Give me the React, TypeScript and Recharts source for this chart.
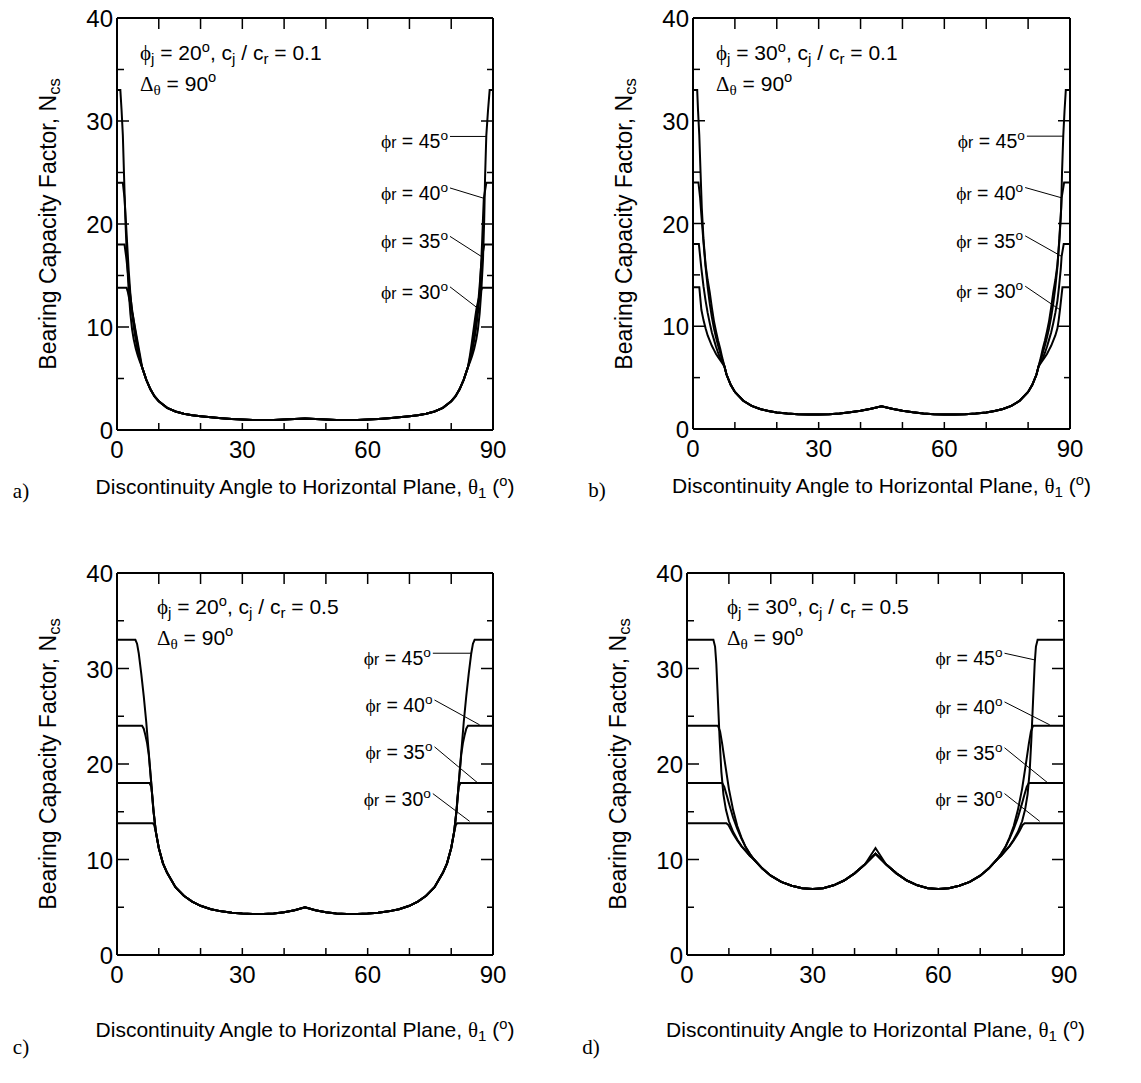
import React from 'react';
import { LineChart, Line, XAxis, YAxis, ReferenceLine } from 'recharts';

type Pt = [number, number];
type Seg = [number, number, number, number];

const FONT = "'Liberation Sans', Arial, Helvetica, sans-serif";
const SERIF = "'Liberation Serif', 'DejaVu Serif', 'Times New Roman', serif";

const X_TICKS = [0, 10, 20, 30, 40, 50, 60, 70, 80, 90];
const Y_TICKS = [0, 5, 10, 15, 20, 25, 30, 35, 40];
const X_LABELS = [0, 30, 60, 90];
const Y_LABELS = [0, 10, 20, 30, 40];
const PHI_R = [45, 40, 35, 30];

// ---- a) phi_j = 20, cj/cr = 0.1
const aMid: Pt[] = [[6, 6.1], [6.5, 5.5], [7, 4.9], [8, 3.95], [9, 3.25], [10, 2.8], [12, 2.15], [14, 1.8], [16, 1.58], [18, 1.44], [20, 1.34], [22.5, 1.23], [25, 1.14], [27.5, 1.07], [30, 1.02], [32.5, 0.98], [35, 0.97], [37.5, 0.98], [40, 1.01], [42.5, 1.06], [45, 1.12], [47.5, 1.06], [50, 1.01], [52.5, 0.98], [55, 0.97], [57.5, 0.98], [60, 1.02], [62.5, 1.07], [65, 1.14], [67.5, 1.23], [70, 1.34], [72, 1.44], [74, 1.58], [76, 1.8], [78, 2.15], [80, 2.8], [81, 3.25], [82, 3.95], [83, 4.9], [83.5, 5.5], [84, 6.1]];
const a45L: Pt[] = [[0, 33], [0.8, 33], [1.1, 31], [1.4, 28.6], [1.7, 24.5], [2, 20.5], [2.4, 16.5], [2.8, 13.5], [3.2, 11.3], [3.6, 9.8], [4, 8.8], [4.5, 7.9], [5, 7.2], [5.5, 6.6]];
const a40L: Pt[] = [[0, 24], [1.4, 24], [1.8, 22.5], [2.1, 20.5], [2.4, 18.3], [2.8, 15.5], [3.2, 13.2], [3.6, 11.4], [4, 10], [4.5, 8.7], [5, 7.6], [5.5, 6.8]];
const a35L: Pt[] = [[0, 18], [1.8, 18], [2.2, 16.8], [2.5, 15.7], [2.8, 14.5], [3.2, 13], [3.6, 11.7], [4, 10.6], [4.5, 9.3], [5, 8.1], [5.5, 7]];
const a30L: Pt[] = [[0, 13.8], [2.3, 13.8], [2.6, 13.4], [3, 12.6], [3.4, 11.9], [3.8, 11.1], [4.2, 10.2], [4.6, 9.3], [5, 8.4], [5.5, 7.3]];
const a45R: Pt[] = [[84.5, 6.6], [85, 7.2], [85.5, 7.9], [86, 8.8], [86.4, 9.8], [86.8, 11.3], [87.2, 13.5], [87.6, 16.5], [87.9, 20.5], [88.1, 24.5], [88.4, 28.6], [88.8, 31], [89.2, 33], [90, 33]];
const a40R: Pt[] = [[84.5, 6.8], [85, 7.6], [85.5, 8.7], [86, 10], [86.4, 11.4], [86.8, 13.2], [87.1, 15.5], [87.4, 18.3], [87.6, 20.5], [87.8, 22.5], [88.4, 24], [90, 24]];
const a35R: Pt[] = [[84.5, 7], [85, 8.1], [85.5, 9.3], [85.9, 10.6], [86.3, 11.7], [86.6, 13], [86.9, 14.5], [87.1, 15.7], [87.4, 16.8], [87.9, 18], [90, 18]];
const a30R: Pt[] = [[84.5, 7.3], [84.9, 8.4], [85.2, 9.3], [85.5, 10.2], [85.8, 11.1], [86.1, 11.9], [86.5, 12.6], [87, 13.4], [87.4, 13.8], [90, 13.8]];
const aLeaders: Seg[] = [[79.7, 28.5, 88.3, 28.5], [79.7, 23.5, 87.8, 22.5], [79.7, 18.8, 87.4, 16.8], [79.7, 13.9, 86.1, 11.9]];

// ---- b) phi_j = 30, cj/cr = 0.1
const bMid: Pt[] = [[7.5, 6.1], [8, 5.3], [9, 4.3], [10, 3.6], [12, 2.75], [14, 2.25], [16, 1.95], [18, 1.75], [20, 1.6], [22.5, 1.5], [25, 1.44], [27.5, 1.41], [30, 1.4], [32.5, 1.43], [35, 1.5], [37.5, 1.62], [40, 1.78], [42.5, 1.98], [45, 2.2], [47.5, 1.98], [50, 1.78], [52.5, 1.62], [55, 1.5], [57.5, 1.43], [60, 1.4], [62.5, 1.41], [65, 1.44], [67.5, 1.5], [70, 1.6], [72, 1.75], [74, 1.95], [76, 2.25], [78, 2.75], [80, 3.6], [81, 4.3], [82, 5.3], [82.5, 6.1]];
const b45L: Pt[] = [[0, 33], [1, 33], [1.2, 31], [1.5, 28.6], [1.8, 25], [2.1, 21.5], [2.5, 18.5], [3, 16], [3.5, 14.5], [4, 13.3], [4.5, 11.8], [5, 10.5], [5.5, 9.5], [6, 8.6], [6.5, 7.8], [7, 6.9]];
const b40L: Pt[] = [[0, 24], [1.3, 24], [1.7, 22.5], [2, 20.8], [2.5, 18.2], [3, 15.8], [3.5, 13.8], [4, 12.2], [4.5, 10.9], [5, 9.8], [5.5, 8.9], [6, 8.1], [6.5, 7.4], [7, 6.7]];
const b35L: Pt[] = [[0, 18], [1.4, 18], [1.7, 16.8], [2, 15.6], [2.5, 13.9], [3, 12.5], [3.5, 11.3], [4, 10.3], [4.5, 9.4], [5, 8.7], [5.5, 8], [6, 7.4], [6.5, 6.9], [7, 6.5]];
const b30L: Pt[] = [[0, 13.8], [1.5, 13.8], [2, 11.6], [2.5, 10.6], [3, 9.8], [3.5, 9.1], [4, 8.6], [4.5, 8.1], [5, 7.7], [5.5, 7.3], [6, 7], [6.5, 6.7], [7, 6.4]];
const b45R: Pt[] = [[83, 6.9], [83.5, 7.8], [84, 8.6], [84.5, 9.5], [85, 10.5], [85.5, 11.8], [86, 13.3], [86.5, 14.5], [87, 16], [87.5, 18.5], [87.9, 21.5], [88.1, 25], [88.4, 28.6], [88.7, 31], [89, 33], [90, 33]];
const b40R: Pt[] = [[83, 6.7], [83.5, 7.4], [84, 8.1], [84.5, 8.9], [85, 9.8], [85.5, 10.9], [86, 12.2], [86.5, 13.8], [87, 15.8], [87.4, 18.2], [87.8, 20.8], [88, 22.5], [88.6, 24], [90, 24]];
const b35R: Pt[] = [[83, 6.5], [83.5, 6.9], [84, 7.4], [84.5, 8], [85, 8.7], [85.5, 9.4], [86, 10.3], [86.5, 11.3], [87, 12.5], [87.4, 13.9], [87.8, 15.6], [88, 16.8], [88.5, 18], [90, 18]];
const b30R: Pt[] = [[83, 6.4], [83.5, 6.7], [84, 7], [84.5, 7.3], [85, 7.7], [85.5, 8.1], [86, 8.6], [86.5, 9.1], [87, 9.8], [87.3, 10.6], [87.6, 11.6], [88.2, 13.8], [90, 13.8]];
const bLeaders: Seg[] = [[79.7, 28.5, 88.4, 28.5], [79.3, 23.5, 88.0, 22.5], [79.3, 18.8, 88.0, 16.8], [79.3, 13.9, 87.6, 11.6]];

// ---- c) phi_j = 20, cj/cr = 0.5
const cMid: Pt[] = [[10, 11.2], [11, 9.6], [12, 8.6], [14, 7.1], [16, 6.2], [18, 5.6], [20, 5.15], [22.5, 4.8], [25, 4.57], [27.5, 4.43], [30, 4.35], [32.5, 4.3], [35, 4.3], [37.5, 4.35], [40, 4.47], [42.5, 4.68], [45, 5], [47.5, 4.68], [50, 4.47], [52.5, 4.35], [55, 4.3], [57.5, 4.3], [60, 4.35], [62.5, 4.43], [65, 4.57], [67.5, 4.8], [70, 5.15], [72, 5.6], [74, 6.2], [76, 7.1], [78, 8.6], [79, 9.6], [80, 11.2]];
const c45L: Pt[] = [[0, 33], [4.4, 33], [4.8, 32.6], [5.2, 31.6], [5.8, 29.5], [6.4, 27.1], [7, 24.4], [7.6, 21.2], [8.2, 18], [8.7, 15.2], [9.3, 12.9]];
const c40L: Pt[] = [[0, 24], [6, 24], [6.4, 23.7], [6.8, 23], [7.2, 22.2], [7.6, 21], [8.2, 18], [8.7, 15.2], [9.3, 12.9]];
const c35L: Pt[] = [[0, 18], [7.8, 18], [8.2, 17.6], [8.5, 16.4], [8.8, 14.9], [9.3, 12.9]];
const c30L: Pt[] = [[0, 13.8], [8.6, 13.8], [8.9, 13.6], [9.3, 12.9]];
const c45R: Pt[] = [[80.7, 12.9], [81.3, 15.2], [81.8, 18], [82.4, 21.2], [83, 24.4], [83.6, 27.1], [84.2, 29.5], [84.8, 31.6], [85.2, 32.6], [85.6, 33], [90, 33]];
const c40R: Pt[] = [[80.7, 12.9], [81.3, 15.2], [81.8, 18], [82.4, 21], [82.8, 22.2], [83.2, 23], [83.6, 23.7], [84, 24], [90, 24]];
const c35R: Pt[] = [[80.7, 12.9], [81.2, 14.9], [81.5, 16.4], [81.8, 17.6], [82.2, 18], [90, 18]];
const c30R: Pt[] = [[80.7, 12.9], [81.1, 13.6], [81.4, 13.8], [90, 13.8]];
const cLeaders: Seg[] = [[75.6, 31.6, 84.8, 31.6], [76.0, 26.7, 86.8, 24.1], [76.0, 21.8, 86.4, 18.0], [75.6, 16.9, 84.4, 14.0]];

// ---- d) phi_j = 30, cj/cr = 0.5
const dMidL: Pt[] = [[16, 10], [18, 9.05], [20, 8.3], [22.5, 7.65], [25, 7.25], [27.5, 7], [30, 6.92], [32.5, 7], [35, 7.3], [37.5, 7.8], [40, 8.55], [42.5, 9.5]];
const dMidR: Pt[] = [[47.5, 9.5], [50, 8.55], [52.5, 7.8], [55, 7.3], [57.5, 7], [60, 6.92], [62.5, 7], [65, 7.25], [67.5, 7.65], [70, 8.3], [72, 9.05], [74, 10]];
const dPeak45: Pt[] = [[45, 11.2]];
const dPeak: Pt[] = [[45, 10.6]];
const d45L: Pt[] = [[0, 33], [6.3, 33], [6.7, 32.3], [7, 30.5], [7.4, 26.5], [7.8, 22.5], [8.2, 19.2], [8.7, 16.8], [9.3, 15.2], [10, 14], [11, 12.9], [12, 12.1], [13, 11.4], [14, 10.9], [15, 10.4]];
const d40L: Pt[] = [[0, 24], [7.4, 24], [7.9, 23.4], [8.4, 22.1], [9, 20.3], [10, 17.4], [11, 15.2], [12, 13.5], [13, 12.3], [14, 11.3], [15, 10.6]];
const d35L: Pt[] = [[0, 18], [8.4, 18], [8.9, 17.6], [9.5, 16.7], [10, 15.9], [11, 14.4], [12, 13.2], [13, 12.2], [14, 11.3], [15, 10.6]];
const d30L: Pt[] = [[0, 13.8], [9.4, 13.8], [9.9, 13.6], [10.5, 13.1], [11, 12.7], [12, 12], [13, 11.4], [14, 10.9], [15, 10.4]];
const d45R: Pt[] = [[75, 10.4], [76, 10.9], [77, 11.4], [78, 12.1], [79, 12.9], [80, 14], [80.7, 15.2], [81.3, 16.8], [81.8, 19.2], [82.2, 22.5], [82.6, 26.5], [83, 30.5], [83.3, 32.3], [83.7, 33], [90, 33]];
const d40R: Pt[] = [[75, 10.6], [76, 11.3], [77, 12.3], [78, 13.5], [79, 15.2], [80, 17.4], [81, 20.3], [81.6, 22.1], [82.1, 23.4], [82.6, 24], [90, 24]];
const d35R: Pt[] = [[75, 10.6], [76, 11.3], [77, 12.2], [78, 13.2], [79, 14.4], [80, 15.9], [80.5, 16.7], [81.1, 17.6], [81.6, 18], [90, 18]];
const d30R: Pt[] = [[75, 10.4], [76, 10.9], [77, 11.4], [78, 12], [79, 12.7], [79.5, 13.1], [80.1, 13.6], [80.6, 13.8], [90, 13.8]];
const dLeaders: Seg[] = [[75.8, 31.6, 83.0, 30.9], [75.8, 26.5, 86.6, 24.1], [75.8, 21.7, 86.2, 18.0], [75.8, 16.9, 84.2, 14.0]];

const join = (...parts: Pt[][]) => parts.flat().map(([x, y]) => ({ x, y }));

type PanelCfg = {
  letter: string;
  phiJ: number;
  ratio: string;
  left: number; // plot area left (page px)
  top: number;
  w: number;
  h: number;
  annX: number;
  annY: number;
  titleDy: number;
  letterDy: number;
  series: { x: number; y: number }[][];
  leaders: Seg[];
};

const panels: PanelCfg[] = [
  {
    letter: 'a)', phiJ: 20, ratio: '0.1', left: 117, top: 18, w: 376, h: 412, annX: 23, annY: 35, titleDy: 57, letterDy: 61,
    series: [join(a45L, aMid, a45R), join(a40L, aMid, a40R), join(a35L, aMid, a35R), join(a30L, aMid, a30R)],
    leaders: aLeaders,
  },
  {
    letter: 'b)', phiJ: 30, ratio: '0.1', left: 693, top: 18, w: 377, h: 411, annX: 23, annY: 35, titleDy: 57, letterDy: 61,
    series: [join(b45L, bMid, b45R), join(b40L, bMid, b40R), join(b35L, bMid, b35R), join(b30L, bMid, b30R)],
    leaders: bLeaders,
  },
  {
    letter: 'c)', phiJ: 20, ratio: '0.5', left: 117, top: 573, w: 376, h: 382, annX: 40, annY: 34, titleDy: 75, letterDy: 92,
    series: [join(c45L, cMid, c45R), join(c40L, cMid, c40R), join(c35L, cMid, c35R), join(c30L, cMid, c30R)],
    leaders: cLeaders,
  },
  {
    letter: 'd)', phiJ: 30, ratio: '0.5', left: 687, top: 573, w: 377, h: 382, annX: 40, annY: 34, titleDy: 75, letterDy: 92,
    series: [
      join(d45L, dMidL, dPeak45, dMidR, d45R),
      join(d40L, dMidL, dPeak, dMidR, d40R),
      join(d35L, dMidL, dPeak, dMidR, d35R),
      join(d30L, dMidL, dPeak, dMidR, d30R),
    ],
    leaders: dLeaders,
  },
];

const PL = 110;
const PT = 18;
const AXIS = { stroke: '#000', strokeWidth: 2 };
const TICK_FS = 24;

const BottomTick = (p: any) => {
  const v = p.payload.value;
  return (
    <g>
      {v > 0 && v < 90 && <line x1={p.x} y1={p.y} x2={p.x} y2={p.y - 7} stroke="#000" strokeWidth={1.5} />}
      {X_LABELS.includes(v) && (
        <text x={p.x} y={p.y + 28} textAnchor="middle" fontSize={TICK_FS} fontFamily={FONT} fill="#000">{v}</text>
      )}
    </g>
  );
};

const TopTick = (p: any) => {
  const v = p.payload.value;
  if (v <= 0 || v >= 90) return <g />;
  return <line x1={p.x} y1={p.y} x2={p.x} y2={p.y + 11} stroke="#000" strokeWidth={1.5} />;
};

const LeftTick = (p: any) => {
  const v = p.payload.value;
  const major = Y_LABELS.includes(v);
  return (
    <g>
      {v > 0 && v < 40 && <line x1={p.x} y1={p.y} x2={p.x + (major ? 12 : 7)} y2={p.y} stroke="#000" strokeWidth={1.5} />}
      {major && (
        <text x={p.x - 4} y={p.y + 9} textAnchor="end" fontSize={TICK_FS} fontFamily={FONT} fill="#000">{v}</text>
      )}
    </g>
  );
};

const RightTick = (p: any) => {
  const v = p.payload.value;
  if (v <= 0 || v >= 40) return <g />;
  const major = Y_LABELS.includes(v);
  return <line x1={p.x} y1={p.y} x2={p.x - (major ? 12 : 6)} y2={p.y} stroke="#000" strokeWidth={1.5} />;
};

const Sub = ({ children }: { children: React.ReactNode }) => (
  <span style={{ fontSize: '0.72em', verticalAlign: '-0.25em' }}>{children}</span>
);
const Sup = ({ children }: { children: React.ReactNode }) => (
  <span style={{ fontSize: '0.7em', verticalAlign: '0.6em' }}>{children}</span>
);
const Greek = ({ children }: { children: React.ReactNode }) => (
  <span style={{ fontFamily: SERIF }}>{children}</span>
);

const txt: React.CSSProperties = {
  position: 'absolute',
  fontFamily: FONT,
  fontSize: 21,
  lineHeight: 1,
  whiteSpace: 'nowrap',
  color: '#000',
};

function Panel({ cfg }: { cfg: PanelCfg }) {
  const { w, h } = cfg;
  const ox = cfg.left - PL;
  const oy = cfg.top - PT;
  const cw = PL + w + 30;
  const ch = PT + h + 80;
  const px = (x: number) => PL + (x / 90) * w;
  const py = (y: number) => PT + ((40 - y) / 40) * h;

  return (
    <div style={{ position: 'absolute', left: ox, top: oy, width: cw, height: ch }}>
      <LineChart width={cw} height={ch} margin={{ top: PT - 10, right: 20, bottom: 40, left: PL - 50 }}>
        <XAxis xAxisId={0} type="number" dataKey="x" domain={[0, 90]} ticks={X_TICKS} interval={0}
          tickSize={0} tickMargin={0} tickLine={false} axisLine={AXIS} height={40} allowDataOverflow
          tick={(p: any) => <BottomTick {...p} />} />
        <XAxis xAxisId="top" orientation="top" type="number" dataKey="x" domain={[0, 90]} ticks={X_TICKS} interval={0}
          tickSize={0} tickMargin={0} tickLine={false} axisLine={AXIS} height={10} allowDataOverflow
          tick={(p: any) => <TopTick {...p} />} />
        <YAxis yAxisId={0} type="number" domain={[0, 40]} ticks={Y_TICKS} interval={0}
          tickSize={0} tickMargin={0} tickLine={false} axisLine={AXIS} width={50} allowDataOverflow
          tick={(p: any) => <LeftTick {...p} />} />
        <YAxis yAxisId="right" orientation="right" type="number" domain={[0, 40]} ticks={Y_TICKS} interval={0}
          tickSize={0} tickMargin={0} tickLine={false} axisLine={AXIS} width={10} allowDataOverflow
          tick={(p: any) => <RightTick {...p} />} />
        {cfg.series.map((pts, i) => (
          <Line key={PHI_R[i]} data={pts} dataKey="y" type="linear" stroke="#000" strokeWidth={2}
            dot={false} activeDot={false} isAnimationActive={false} />
        ))}
        {cfg.leaders.map((s, i) => (
          <ReferenceLine key={'l' + i} segment={[{ x: s[0], y: s[1] }, { x: s[2], y: s[3] }]}
            stroke="#000" strokeWidth={1} ifOverflow="visible" />
        ))}
      </LineChart>

      {/* parameter note */}
      <div style={{ ...txt, left: PL + cfg.annX, top: PT + cfg.annY, transform: 'translateY(-50%)' }}>
        <Greek>ϕ</Greek><Sub>j</Sub> = {cfg.phiJ}<Sup>o</Sup>, c<Sub>j</Sub> / c<Sub>r</Sub> = {cfg.ratio}
      </div>
      <div style={{ ...txt, left: PL + cfg.annX, top: PT + cfg.annY + 31, transform: 'translateY(-50%)' }}>
        <Greek>Δ</Greek><Sub><Greek>θ</Greek></Sub> = 90<Sup>o</Sup>
      </div>

      {/* phi_r labels */}
      {cfg.leaders.map((s, i) => (
        <div key={'t' + i} style={{ ...txt, fontSize: 19.5, left: px(s[0]) - 2, top: py(s[1]) + 4, transform: 'translate(-100%, -50%)' }}>
          <Greek>ϕ</Greek><span style={{ fontSize: '0.8em' }}>r</span> = {PHI_R[i]}<Sup>o</Sup>
        </div>
      ))}

      {/* axis titles */}
      <div style={{ ...txt, fontSize: 23, left: PL - 67, top: PT + h / 2, transform: 'translate(-50%, -50%) rotate(-90deg)' }}>
        Bearing Capacity Factor, N<Sub>cs</Sub>
      </div>
      <div style={{ ...txt, left: PL + w / 2, top: PT + h + cfg.titleDy, transform: 'translate(-50%, -50%)' }}>
        Discontinuity Angle to Horizontal Plane, <Greek>θ</Greek><Sub>1</Sub> (<Sup>o</Sup>)
      </div>
      <div style={{ ...txt, fontFamily: SERIF, left: PL - 96, top: PT + h + cfg.letterDy, transform: 'translate(-50%, -50%)' }}>
        {cfg.letter}
      </div>
    </div>
  );
}

export default function App() {
  return (
    <div style={{ position: 'absolute', left: 0, top: 0, width: 1141, height: 1083, overflow: 'hidden', background: '#fff' }}>
      {panels.map(p => <Panel key={p.letter} cfg={p} />)}
    </div>
  );
}
